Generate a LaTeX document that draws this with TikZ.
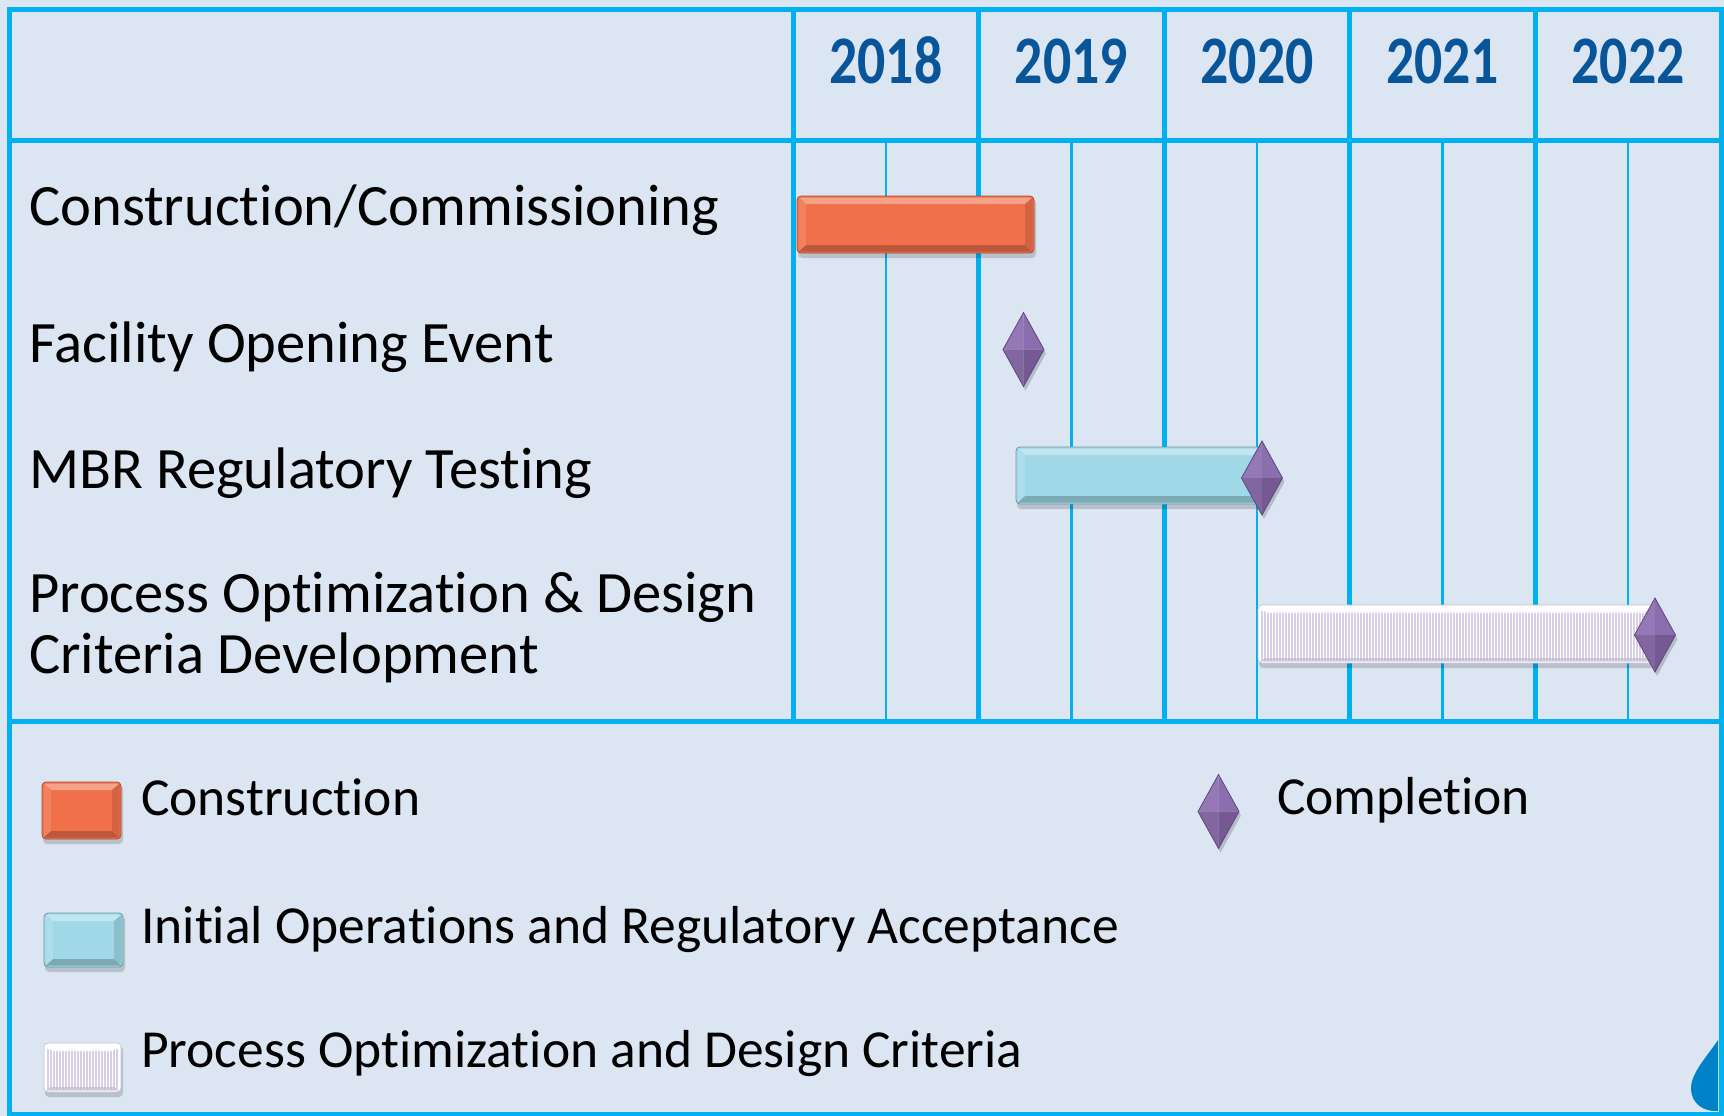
\documentclass[tikz,border=0pt]{standalone}
\usepackage{fontspec}
\setmainfont{Carlito}[Ligatures={TeX,NoCommon}]
\definecolor{bgc}{HTML}{DCE6F2}
\definecolor{gridc}{HTML}{00B0F0}
\definecolor{yearc}{HTML}{08559A}
\definecolor{orangec}{HTML}{F0704A}
\definecolor{bluec}{HTML}{A0D8E8}
\definecolor{stripec}{HTML}{D8CEE6}
\definecolor{dmTL}{HTML}{9579B6}
\definecolor{dmTR}{HTML}{8B6EAD}
\definecolor{dmBL}{HTML}{82669F}
\definecolor{dmBR}{HTML}{755993}
\definecolor{dmEdge}{HTML}{5E4780}
\definecolor{dropc}{HTML}{0082C8}
\newcommand\ganttbevel[5]{%
  \fill[black,opacity=0.16,rounded corners=4] (#1+1,#2+3) rectangle (#3+2,#4+5);
  \fill[#5,rounded corners=4] (#1,#2) rectangle (#3,#4);
  \fill[#5!65!white] (#1+2,#2+1.5) -- (#3-2,#2+1.5) -- (#3-9,#2+8) -- (#1+9,#2+8) -- cycle;
  \fill[#5!78!black] (#1+2,#4-1.5) -- (#3-2,#4-1.5) -- (#3-9,#4-8) -- (#1+9,#4-8) -- cycle;
  \fill[#5!88!white] (#1+1.5,#2+2) -- (#1+9,#2+8) -- (#1+9,#4-8) -- (#1+1.5,#4-2) -- cycle;
  \fill[#5!88!black] (#3-1.5,#2+2) -- (#3-9,#2+8) -- (#3-9,#4-8) -- (#3-1.5,#4-2) -- cycle;
  \draw[#5!70!black,line width=0.8,rounded corners=4] (#1,#2) rectangle (#3,#4);
}
\newcommand\ganttstripe[4]{%
  \fill[black,opacity=0.16,rounded corners=4] (#1+1,#2+3) rectangle (#3+2,#4+5);
  \fill[white,rounded corners=4] (#1,#2) rectangle (#3,#4);
  \begin{scope}
  \clip (#1+2,#2+6) rectangle (#3-2,#4-3);
  \pgfmathsetmacro\sxa{#1+4}\pgfmathsetmacro\sxb{#1+7}\pgfmathsetmacro\sxe{#3-2}
  \foreach \sx in {\sxa,\sxb,...,\sxe}{\draw[stripec,line width=1.1] (\sx,#2) -- (\sx,#4);}
  \end{scope}
  \fill[white,opacity=0.85] (#1+2,#2+1.5) -- (#3-2,#2+1.5) -- (#3-8,#2+8) -- (#1+8,#2+8) -- cycle;
  \fill[stripec!70!gray,opacity=0.6] (#1+2,#4-1.5) -- (#3-2,#4-1.5) -- (#3-7,#4-5) -- (#1+7,#4-5) -- cycle;
  \draw[stripec!80!gray,line width=0.6,rounded corners=4] (#1,#2) rectangle (#3,#4);
}
\newcommand\milestone[2]{%
  \fill[black,opacity=0.18] (#1+2,#2-33) -- (#1+22.5,#2+4) -- (#1+2,#2+41) -- (#1-18.5,#2+4) -- cycle;
  \fill[dmTL] (#1,#2-37) -- (#1,#2) -- (#1-20.5,#2) -- cycle;
  \fill[dmTR] (#1,#2-37) -- (#1+20.5,#2) -- (#1,#2) -- cycle;
  \fill[dmBL] (#1-20.5,#2) -- (#1,#2) -- (#1,#2+37) -- cycle;
  \fill[dmBR] (#1,#2) -- (#1+20.5,#2) -- (#1,#2+37) -- cycle;
  \draw[dmEdge,line width=0.8,line join=miter] (#1,#2-37) -- (#1+20.5,#2) -- (#1,#2+37) -- (#1-20.5,#2) -- cycle;
}
\tikzset{
  gridthick/.style={gridc,line width=5},
  gridthin/.style={gridc,line width=2.5},
  yearlbl/.style={anchor=base,inner sep=0,text=yearc,font=\fontsize{68}{70}\selectfont\bfseries},
  rowlbl/.style={anchor=base west,inner sep=0,font=\fontsize{58.6}{61}\selectfont},
  leglbl/.style={anchor=base west,inner sep=0,font=\fontsize{53.5}{58}\selectfont},
}
\begin{document}
\begin{tikzpicture}[x=1pt,y=-1pt]
\useasboundingbox (0,0) rectangle (1724,1116);
\fill[bgc] (0,0) rectangle (1724,1116);
% drop decoration
\fill[dropc] (1718,1040) .. controls (1706,1058) and (1690,1074) .. (1691,1090) .. controls (1692,1104) and (1704,1112) .. (1718,1111) -- cycle;
% grid
\foreach \hx in {885.8,1071.4,1257,1442.6,1628.2}{\draw[gridthin] (\hx,140) -- (\hx,721.5);}
\foreach \vx in {793,978.6,1164.2,1349.8,1535.4}{\draw[gridthick] (\vx,9.5) -- (\vx,721.5);}
\draw[gridthick] (9.5,140) -- (1721,140);
\draw[gridthick] (9.5,721.5) -- (1721,721.5);
\draw[gridthick] (9.5,9.5) rectangle (1721,1114);
% years
\node[yearlbl] (y18) at (885.8,83) {\scalebox{0.82}[1]{2018}};
\node[yearlbl] (y19) at (1071.4,83) {\scalebox{0.82}[1]{2019}};
\node[yearlbl] (y20) at (1257,83) {\scalebox{0.82}[1]{2020}};
\node[yearlbl] (y21) at (1442.6,83) {\scalebox{0.82}[1]{2021}};
\node[yearlbl] (y22) at (1628.2,83) {\scalebox{0.82}[1]{2022}};
% row labels
\node[rowlbl] (r1) at (29,225) {Construction/Commissioning};
\node[rowlbl] (r2) at (29,362) {Facility Opening Event};
\node[rowlbl] (r3) at (29,488) {MBR Regulatory Testing};
\node[rowlbl] (r4a) at (29,612) {Process Optimization \& Design};
\node[rowlbl] (r4b) at (29,673) {Criteria Development};
% bars
\ganttbevel{797}{196}{1034}{253}{orangec}
\milestone{1023.5}{349.5}
\ganttbevel{1016}{447}{1262}{504}{bluec}
\milestone{1262}{478}
\ganttstripe{1258}{605}{1653}{663}
\milestone{1655}{635}
% legend
\ganttbevel{42}{782}{121}{839}{orangec}
\node[leglbl] (l1) at (141,815) {Construction};
\ganttbevel{44}{913}{123}{967}{bluec}
\node[leglbl] (l2) at (141,943) {Initial Operations and Regulatory Acceptance};
\ganttstripe{44}{1043}{121}{1092}
\node[leglbl] (l3) at (141,1067) {Process Optimization and Design Criteria};
\milestone{1218.5}{811.5}
\node[leglbl] (l4) at (1277,814) {Completion};
\end{tikzpicture}
\end{document}
